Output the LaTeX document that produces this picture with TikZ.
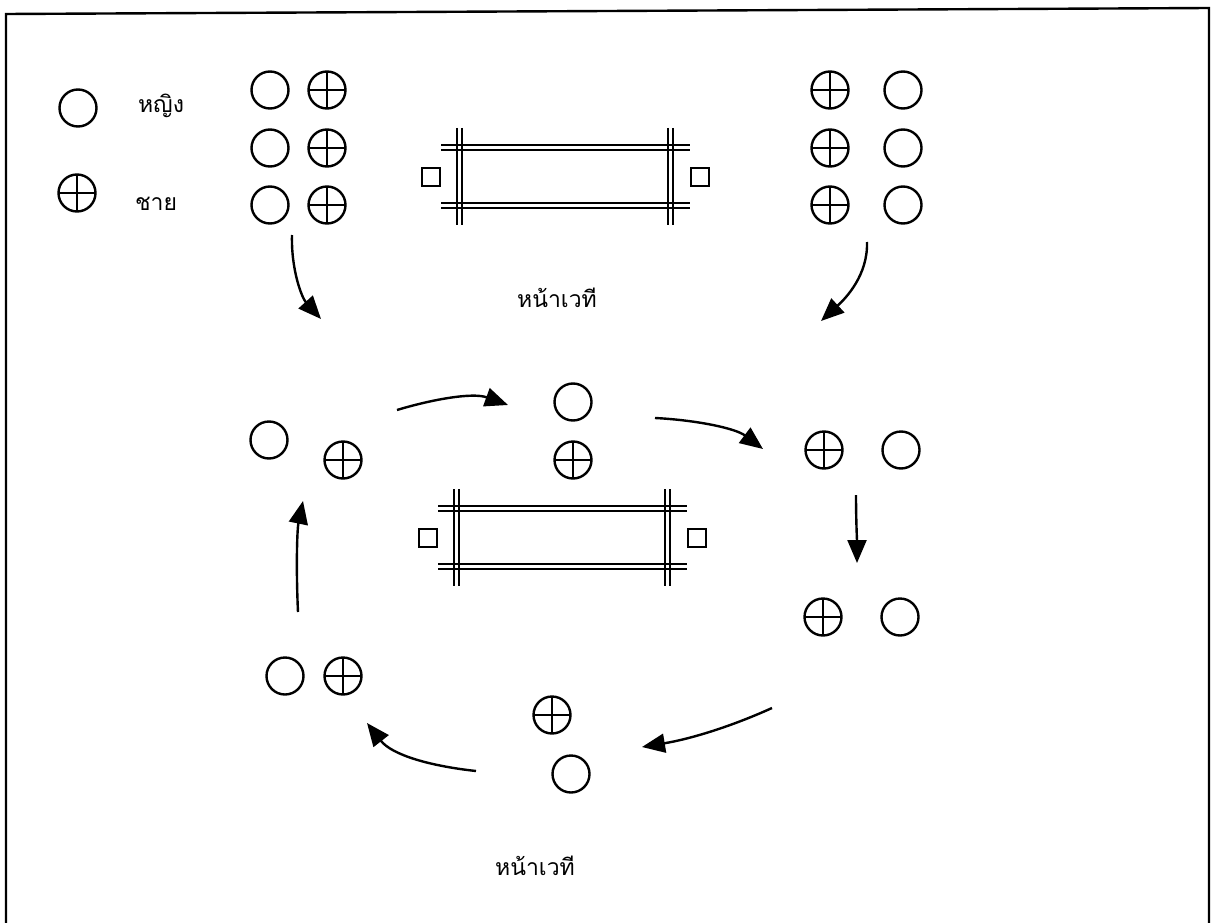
\documentclass[tikz,border=0pt]{standalone}
\usepackage{fontspec}
\newfontfamily\thaifont[Script=Thai]{Loma}
\usetikzlibrary{arrows.meta}
\begin{document}
\begin{tikzpicture}[x=1pt,y=-1pt,
  woman/.style={circle,draw,line width=2.4pt,minimum size=37pt,inner sep=0pt},
  man/.style={woman,path picture={\draw[line width=2pt]
      (path picture bounding box.north) -- (path picture bounding box.south)
      (path picture bounding box.west) -- (path picture bounding box.east);}},
  lbl/.style={font=\thaifont\fontsize{23}{27}\selectfont,inner sep=0pt},
  arr/.style={line width=2.4pt,-{Triangle[length=23pt,width=19pt]}},
  sq/.style={draw,line width=2pt,minimum size=18pt,inner sep=0pt},
  rail/.style={line width=2pt},
  stagepic/.pic={
    \draw[rail] (0,0) -- (249,0) (0,5) -- (249,5) (0,58) -- (249,58) (0,63) -- (249,63);
    \draw[rail] (16,-17) -- (16,80) (21,-17) -- (21,80) (227,-17) -- (227,80) (232,-17) -- (232,80);
    \node[sq] (-lsq) at (-10,32) {};
    \node[sq] (-rsq) at (259,32) {};
  }
]
\useasboundingbox (0,0) rectangle (1212,923);
\fill[white] (0,0) rectangle (1212,923);
% frame
\draw[line width=2.4pt] (6,923) -- (6,14) -- (1209,8) -- (1209,923);

% legend
\node[woman] (lw) at (78,108) {};
\node[lbl] (lwt) at (161,106) {หญิง};
\node[man] (lm) at (77,193) {};
\node[lbl] (lmt) at (156,204) {ชาย};

% top-left group
\foreach \r/\y in {1/90,2/148,3/205}{
  \node[woman] (tlw\r) at (270,\y) {};
  \node[man] (tlm\r) at (327,\y) {};
}
% top-right group
\foreach \r/\y in {1/90,2/148,3/205}{
  \node[man] (trm\r) at (830,\y) {};
  \node[woman] (trw\r) at (903,\y) {};
}

% stages
\pic (topstage) at (441,145) {stagepic};
\node[lbl] (toplabel) at (557,298) {หน้าเวที};
\pic (midstage) at (438,506) {stagepic};
\node[lbl] (botlabel) at (535,866) {หน้าเวที};

% ring
\node[woman] (aw) at (269,440) {};
\node[man] (am) at (343,460) {};
\node[woman] (bw) at (573,402) {};
\node[man] (bm) at (573,460) {};
\node[man] (cm) at (824,450) {};
\node[woman] (cw) at (901,450) {};
\node[man] (dm) at (823,617) {};
\node[woman] (dw) at (900,617) {};
\node[man] (em) at (552,715) {};
\node[woman] (ew) at (571,774) {};
\node[woman] (fw) at (285,676) {};
\node[man] (fm) at (343,676) {};

% arrow endpoints
\coordinate (a1s) at (292,235); \coordinate (a1e) at (321,319);
\coordinate (a2s) at (867,242); \coordinate (a2e) at (821,321);
\coordinate (a3s) at (397,410); \coordinate (a3e) at (508,405);
\coordinate (a4s) at (655,418); \coordinate (a4e) at (763,449);
\coordinate (a5s) at (856,495); \coordinate (a5e) at (857,563);
\coordinate (a6s) at (772,708); \coordinate (a6e) at (642,747);
\coordinate (a7s) at (476,771); \coordinate (a7e) at (367,723);
\coordinate (a8s) at (298,612); \coordinate (a8e) at (303,501);

\draw[arr] (a1s) .. controls (291,270) and (302,298) .. (a1e);
\draw[arr] (a2s) .. controls (868,275) and (846,298) .. (a2e);
\draw[arr] (a3s) .. controls (430,400) and (472,392) .. (a3e);
\draw[arr] (a4s) .. controls (695,420) and (735,428) .. (a4e);
\draw[arr] (a5s) .. controls (856,520) and (857,540) .. (a5e);
\draw[arr] (a6s) .. controls (730,727) and (690,739) .. (a6e);
\draw[arr] (a7s) .. controls (430,766) and (392,755) .. (a7e);
\draw[arr] (a8s) .. controls (296,570) and (297,530) .. (a8e);
\end{tikzpicture}
\end{document}
